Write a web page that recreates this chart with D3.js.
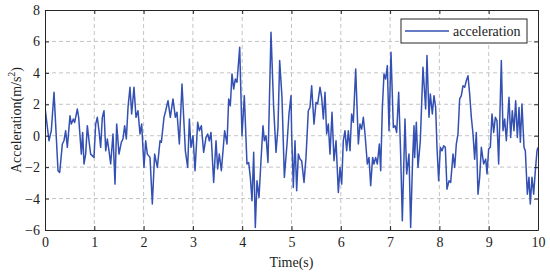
<!DOCTYPE html>
<html>
<head>
<meta charset="utf-8">
<script src="https://cdn.jsdelivr.net/npm/d3@7"></script>
<style>
  body { margin: 0; background: #fff; }
  text { font-family: "Liberation Serif", "DejaVu Serif", serif; }
</style>
</head>
<body>
<div id="chart-container"></div>
<script>
// Values (time in s, acceleration in m/s^2).
const times = [
  0, 0.081, 0.128, 0.183, 0.264, 0.298, 0.352, 0.385, 0.419, 0.453, 0.507, 0.534, 0.575, 0.602, 0.656, 0.683,
  0.737, 0.764, 0.791, 0.825, 0.859, 0.892, 0.926, 0.994, 1.028, 1.061, 1.095, 1.129, 1.163, 1.197, 1.231, 1.264,
  1.298, 1.332, 1.379, 1.420, 1.454, 1.501, 1.548, 1.582, 1.616, 1.650, 1.684, 1.724, 1.758, 1.805, 1.846, 1.886,
  1.927, 1.961, 2.008, 2.042, 2.076, 2.130, 2.177, 2.224, 2.279, 2.333, 2.360, 2.414, 2.448, 2.495,
  2.542, 2.596, 2.644, 2.677, 2.725, 2.779, 2.813, 2.847, 2.894, 2.928, 2.961, 3.002, 3.043, 3.097, 3.131, 3.171,
  3.218, 3.266, 3.300, 3.333, 3.367, 3.421, 3.469, 3.502, 3.536, 3.577, 3.611, 3.644, 3.692, 3.726, 3.759, 3.793,
  3.827, 3.861, 3.895, 3.949, 3.996, 4.043, 4.097, 4.131, 4.165, 4.199, 4.233, 4.266, 4.300, 4.341, 4.381, 4.422,
  4.449, 4.483, 4.523, 4.584, 4.638, 4.686, 4.726, 4.760, 4.807, 4.855, 4.909, 4.949, 4.990,
  5.003, 5.037, 5.071, 5.105, 5.139, 5.172, 5.206, 5.254, 5.294, 5.341, 5.375, 5.409, 5.456, 5.497, 5.531, 5.578,
  5.612, 5.646, 5.680, 5.713, 5.747, 5.781, 5.822, 5.862, 5.903, 5.950, 5.984, 6.018, 6.051, 6.085, 6.119, 6.153,
  6.187, 6.220, 6.254, 6.302, 6.356, 6.389, 6.423, 6.457, 6.491, 6.538, 6.572, 6.606, 6.646, 6.673, 6.707, 6.741,
  6.782, 6.809, 6.843, 6.876, 6.910, 6.944, 6.978, 7.018, 7.066, 7.099, 7.133, 7.174, 7.214, 7.248, 7.302, 7.336,
  7.383, 7.417, 7.458, 7.485,
  7.498, 7.532, 7.566, 7.613, 7.667, 7.721, 7.748, 7.789, 7.816, 7.857, 7.890, 7.924, 7.951, 7.985, 8.019, 8.053,
  8.087, 8.120, 8.154, 8.195, 8.229, 8.276, 8.310, 8.343, 8.377, 8.411, 8.445, 8.479, 8.513, 8.546, 8.580, 8.614,
  8.648, 8.682, 8.715, 8.749, 8.783, 8.817, 8.851, 8.898, 8.939, 8.966, 8.999, 9.033, 9.067, 9.101, 9.135, 9.168,
  9.202, 9.223, 9.256, 9.290, 9.324, 9.358, 9.412, 9.446, 9.479, 9.513, 9.547, 9.581, 9.615, 9.642, 9.675, 9.716,
  9.743, 9.784, 9.817, 9.844, 9.878, 9.912, 9.946, 9.980, 10.0
];
const accel = [
  1.8, -0.32, 0.32, 2.76, -2.23, -2.34, -0.53, -0.32, 0.32, -0.74, 1.27, 0.74, 1.06, 0.85, 1.70, 1.17,
  -1.17, 0.21, -1.80, -1.17, 0.64, -0.32, -1.17, -1.38, 0.74, 1.17, 0.32, -0.74, 1.17, 1.59, -0.96, -0.21,
  -0.96, -1.80, 0.11, -3.08, 0.74, -1.17, -0.42, -0.21, 0.64, -0.21, 1.80, 3.08, 1.38, 3.08, 1.17, 1.59,
  0.11, 0.74, -2.02, -0.32, -1.17, -1.38, -4.35, -1.17, -2.02, -0.32, -0.42, 1.17, 1.59, 2.23,
  1.17, 2.34, 1.17, 1.49, -0.53, 3.29, 1.17, -0.96, -2.02, 1.06, -0.74, 0, -2.23, 0.85, 0.32, 0.64,
  -1.06, -0.11, 0.11, -0.32, 0.21, -2.97, -0.32, -2.12, -1.17, -2.23, -0.96, 0.32, -0.53, 2.34, 1.91, 3.93,
  2.97, 3.61, 3.40, 5.63, 0, 2.55, -1.80, -1.70, -2.65, -4.14, -1.06, -5.84, -2.87, -3.93, -1.59, 0.64,
  -0.32, 0, -1.70, 6.58, 1.80, -1.06, 0.53, 4.78, 2.44, -2.65, -0.53, 1.38, 2.55,
  0.11, -3.30, -0.32, -3.50, -1.17, -1.49, -1.59, -2.97, -1.38, 1.59, 1.80, 3.18, 0.74, 2.12, 2.02, 3.08,
  2.44, 1.06, 2.76, 0.11, 0.74, -1.17, 1.49, -1.59, -0.32, -3.61, -2.02, -3.08, -0.32, 0.32, -0.96, 0.32,
  -0.96, 1.38, 0.85, 4.25, -0.53, 0.74, 0.42, 1.17, 0.11, -1.80, -1.38, -3.18, -1.38, -1.80, -1.38, -1.80,
  -0.53, -2.23, 1.80, 3.93, 3.61, 4.46, 0.32, 5.31, 0.53, 0.64, 0.21, 2.76, -1.17, -5.41, 1.06, -2.44,
  -1.17, -5.84, -1.38, 0.64,
  -1.38, 0.85, -2.02, -0.32, 4.35, 1.70, 5.10, 1.17, 2.65, 1.38, 2.55, 1.80, -0.74, -2.87, -0.74, -0.96,
  -0.64, -0.74, -3.40, -2.87, -2.97, -1.17, -2.02, -0.53, 0.11, 2.34, 2.55, 3.18, 3.08, 3.50, 3.82, 2.65,
  1.17, 0.11, -1.49, 0.21, -3.72, -2.65, -0.74, -1.80, -1.49, -2.44, -0.85, -0.74, 1.38, 0.21, 1.17, 0.96,
  -1.80, 0.74, 4.78, 0.32, 1.06, -0.32, 2.44, -0.11, 1.59, 0.32, 2.23, -0.11, 1.80, -0.42, 2.02, -0.74,
  -0.96, -3.72, -2.65, -4.35, -2.65, -3.72, -2.23, -0.96, -0.74
];
const xTicks = [0, 1, 2, 3, 4, 5, 6, 7, 8, 9, 10];
const yTicks = [-6, -4, -2, 0, 2, 4, 6, 8];
const seriesName = "acceleration";

// Chart dimensions and margins.
const width = 550;
const height = 272;
const marginTop = 10;
const marginRight = 12;
const marginBottom = 42;
const marginLeft = 45;

const x = d3.scaleLinear()
    .domain([0, 10])
    .range([marginLeft, width - marginRight]);

const y = d3.scaleLinear()
    .domain([-6, 8])
    .range([height - marginBottom, marginTop]);

const svg = d3.create("svg")
    .attr("width", width)
    .attr("height", height);

// Dashed grid.
svg.append("g")
    .attr("stroke", "#c4c4c4")
    .attr("stroke-dasharray", "4,3")
    .selectAll("line.vx")
    .data(xTicks.slice(1, -1))
    .join("line")
    .attr("x1", d => x(d)).attr("x2", d => x(d))
    .attr("y1", y(8)).attr("y2", y(-6));

svg.append("g")
    .attr("stroke", "#c4c4c4")
    .attr("stroke-dasharray", "4,3")
    .selectAll("line")
    .data(yTicks.slice(1, -1))
    .join("line")
    .attr("x1", x(0)).attr("x2", x(10))
    .attr("y1", d => y(d)).attr("y2", d => y(d));

// The signal.
svg.append("clipPath").attr("id", "plot-clip")
  .append("rect")
    .attr("x", x(0)).attr("y", y(8))
    .attr("width", x(10) - x(0)).attr("height", y(-6) - y(8));

const line = d3.line()
    .x((d, i) => x(times[i]))
    .y(d => y(d));

svg.append("path")
    .attr("clip-path", "url(#plot-clip)")
    .attr("fill", "none")
    .attr("stroke", "#3350b2")
    .attr("stroke-width", 1.5)
    .attr("stroke-linejoin", "round")
    .attr("d", line(accel));

// Axes, ticks pointing inward on all four sides.
const styleAxis = g => {
  g.select(".domain").attr("stroke", "#262626");
  g.selectAll(".tick line").attr("stroke", "#262626");
  g.selectAll(".tick text").attr("fill", "#222").attr("font-size", 14)
      .attr("font-family", "'Liberation Serif', serif");
};

svg.append("g")
    .attr("transform", `translate(0,${y(-6)})`)
    .call(d3.axisBottom(x).tickValues(xTicks).tickSize(-4).tickPadding(7).tickSizeOuter(0))
    .call(styleAxis);

svg.append("g")
    .attr("transform", `translate(0,${y(8)})`)
    .call(d3.axisTop(x).tickValues(xTicks).tickSize(-4).tickSizeOuter(0).tickFormat(""))
    .call(styleAxis);

svg.append("g")
    .attr("transform", `translate(${x(0)},0)`)
    .call(d3.axisLeft(y).tickValues(yTicks).tickSize(-4).tickPadding(5).tickSizeOuter(0))
    .call(styleAxis)
    .call(g => g.selectAll(".tick text").text(d => d < 0 ? "\u2212" + Math.abs(d) : d));

svg.append("g")
    .attr("transform", `translate(${x(10)},0)`)
    .call(d3.axisRight(y).tickValues(yTicks).tickSize(-4).tickSizeOuter(0).tickFormat(""))
    .call(styleAxis);

// Axis titles.
svg.append("text")
    .attr("x", (x(0) + x(10)) / 2)
    .attr("y", 267)
    .attr("text-anchor", "middle")
    .attr("font-size", 14)
    .attr("fill", "#222")
    .text("Time(s)");

const yTitle = svg.append("text")
    .attr("transform", `translate(21,${(y(8) + y(-6)) / 2}) rotate(-90)`)
    .attr("text-anchor", "middle")
    .attr("font-size", 14)
    .attr("fill", "#222");
yTitle.append("tspan").text("Acceleration(m/s");
yTitle.append("tspan").attr("font-size", 10).attr("dy", -6).text("2");
yTitle.append("tspan").attr("dy", 6).text(")");

// Legend.
const legend = svg.append("g").attr("transform", "translate(401,19)");
legend.append("rect")
    .attr("width", 126).attr("height", 24)
    .attr("fill", "#fff")
    .attr("stroke", "#262626");
legend.append("line")
    .attr("x1", 4).attr("x2", 48)
    .attr("y1", 12).attr("y2", 12)
    .attr("stroke", "#3350b2")
    .attr("stroke-width", 1.5);
legend.append("text")
    .attr("x", 52).attr("y", 17)
    .attr("font-size", 14)
    .attr("fill", "#222")
    .text(seriesName);

d3.select("#chart-container").append(() => svg.node());
</script>
</body>
</html>
